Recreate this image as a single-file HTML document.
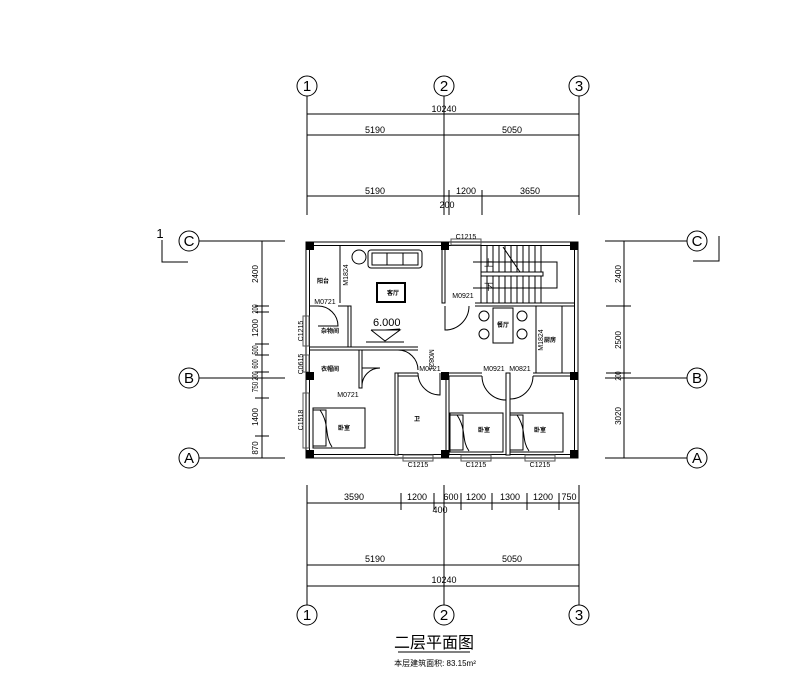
<!DOCTYPE html>
<html><head><meta charset="utf-8"><style>
html,body{margin:0;padding:0;background:#fff;}
svg{display:block;}
text{font-family:"Liberation Sans","Noto Sans CJK SC",sans-serif;fill:#000;}
</style></head><body>
<svg width="794" height="681" viewBox="0 0 794 681" xmlns="http://www.w3.org/2000/svg">
<rect width="794" height="681" fill="#fff"/>
<g stroke="#000" stroke-width="1" fill="none">
<circle cx="307" cy="86" r="10"/><circle cx="444" cy="86" r="10"/><circle cx="579" cy="86" r="10"/>
<line x1="307" y1="96" x2="307" y2="215"/><line x1="444" y1="96" x2="444" y2="215"/><line x1="579" y1="96" x2="579" y2="215"/>
<line x1="449" y1="190" x2="449" y2="215"/><line x1="482" y1="190" x2="482" y2="215"/>
<line x1="307" y1="114" x2="579" y2="114"/><line x1="307" y1="135" x2="579" y2="135"/><line x1="307" y1="196" x2="579" y2="196"/>
<circle cx="307" cy="615" r="10"/><circle cx="444" cy="615" r="10"/><circle cx="579" cy="615" r="10"/>
<line x1="307" y1="485" x2="307" y2="605"/><line x1="444" y1="485" x2="444" y2="605"/><line x1="579" y1="485" x2="579" y2="605"/>
<line x1="307" y1="503" x2="579" y2="503"/><line x1="307" y1="565" x2="579" y2="565"/><line x1="307" y1="586" x2="579" y2="586"/>
<line x1="401" y1="493" x2="401" y2="510"/><line x1="434" y1="493" x2="434" y2="510"/><line x1="461" y1="493" x2="461" y2="510"/>
<line x1="492" y1="493" x2="492" y2="510"/><line x1="527" y1="493" x2="527" y2="510"/><line x1="559" y1="493" x2="559" y2="510"/>
<circle cx="189" cy="241" r="10"/><circle cx="189" cy="378" r="10"/><circle cx="189" cy="458" r="10"/>
<line x1="199" y1="241" x2="285" y2="241"/><line x1="199" y1="378" x2="285" y2="378"/><line x1="199" y1="458" x2="285" y2="458"/>
<line x1="262" y1="241" x2="262" y2="458"/>
<line x1="255" y1="306" x2="269" y2="306"/><line x1="255" y1="312" x2="269" y2="312"/><line x1="255" y1="344" x2="269" y2="344"/>
<line x1="255" y1="355" x2="269" y2="355"/><line x1="255" y1="372" x2="269" y2="372"/><line x1="255" y1="398" x2="269" y2="398"/>
<line x1="255" y1="436" x2="269" y2="436"/>
<polyline points="162,240 162,262 188,262"/>
<circle cx="697" cy="241" r="10"/><circle cx="697" cy="378" r="10"/><circle cx="697" cy="458" r="10"/>
<line x1="605" y1="241" x2="687" y2="241"/><line x1="605" y1="378" x2="687" y2="378"/><line x1="605" y1="458" x2="687" y2="458"/>
<line x1="624" y1="241" x2="624" y2="458"/>
<line x1="606" y1="306" x2="631" y2="306"/><line x1="606" y1="373" x2="631" y2="373"/>
<polyline points="719,236 719,261 693,261"/>
<rect x="306" y="242" width="272" height="216"/>
<rect x="309.5" y="245.5" width="265" height="209"/>
<rect x="442" y="245" width="3" height="58" fill="#fff"/>
<line x1="475" y1="303" x2="575" y2="303"/><line x1="475" y1="306" x2="575" y2="306"/>
<line x1="340" y1="246" x2="340" y2="303"/>
<line x1="309" y1="306" x2="318" y2="306"/><line x1="338" y1="306" x2="351" y2="306"/>
<rect x="348" y="306" width="3" height="41" fill="#fff"/>
<line x1="309" y1="347" x2="418" y2="347"/><line x1="309" y1="350" x2="418" y2="350"/>
<rect x="359" y="350" width="3" height="38" fill="#fff"/>
<line x1="395" y1="373" x2="418" y2="373"/><line x1="398" y1="376" x2="418" y2="376"/>
<rect x="395" y="373" width="3" height="82" fill="#fff"/>
<line x1="482" y1="373" x2="441" y2="373"/><line x1="482" y1="376" x2="448" y2="376"/>
<line x1="533" y1="373" x2="575" y2="373"/><line x1="533" y1="376" x2="570" y2="376"/>
<rect x="506" y="373" width="4" height="82" fill="#fff"/>
<rect x="446" y="376" width="3" height="79" fill="#fff"/>
<line x1="536" y1="306" x2="536" y2="373"/><line x1="562" y1="306" x2="562" y2="373"/>
<path d="M318 306 A20 20 0 0 1 338 326 L318 326"/>
<path d="M362 386 A18 18 0 0 1 380 368 L362 368" />
<path d="M398 350 A20 20 0 0 1 418 370"/>
<path d="M418 373 A22 22 0 0 0 440 395 L440 373"/>
<path d="M445 306 L445 330 A24 24 0 0 0 469 306"/>
<path d="M482 376 A24 24 0 0 0 506 400 L506 376"/>
<path d="M533 376 A23 23 0 0 1 510 399 L510 376"/>
<g stroke="#555"><rect x="303" y="316" width="6" height="30"/><rect x="303" y="355" width="6" height="17"/><rect x="303" y="393" width="6" height="55"/>
<rect x="451" y="239" width="30" height="6"/><rect x="403" y="455" width="30" height="6"/><rect x="461" y="455" width="30" height="6"/><rect x="525" y="455" width="30" height="6"/></g>
<path d="M481 245 V303 M487 245 V303 M493 245 V303 M499 245 V303 M505 245 V303 M511 245 V303 M517 245 V303 M523 245 V303 M529 245 V303 M535 245 V303 M541 245 V303"/>
<rect x="481" y="272" width="62" height="4" fill="#fff"/>
<polyline points="473,262 557,262 557,288 473,288"/>
<line x1="503" y1="247" x2="520" y2="272"/>
<circle cx="359" cy="257" r="7"/>
<rect x="368" y="250" width="54" height="18" rx="3"/><rect x="372" y="253" width="46" height="12"/>
<line x1="387" y1="253" x2="387" y2="265"/><line x1="403" y1="253" x2="403" y2="265"/>
<rect x="377" y="283" width="28" height="19" stroke-width="2"/>
<rect x="493" y="308" width="20" height="35"/>
<circle cx="484" cy="316" r="5"/><circle cx="484" cy="334" r="5"/><circle cx="522" cy="316" r="5"/><circle cx="522" cy="334" r="5"/>
<rect x="313" y="408" width="52" height="40"/><rect x="313" y="410" width="13" height="36"/><path d="M320 410 C330 425 324 435 332 447"/>
<rect x="450" y="413" width="53" height="39"/><rect x="450" y="415" width="13" height="35"/><path d="M457 415 C467 430 461 440 469 451"/>
<rect x="510" y="413" width="53" height="39"/><rect x="510" y="415" width="13" height="35"/><path d="M517 415 C527 430 521 440 529 451"/>
<polyline points="371,330 400,330 385,341 371,330"/><line x1="366" y1="342" x2="404" y2="342"/><line x1="385" y1="330" x2="400" y2="329"/>
<line x1="398" y1="652" x2="470" y2="652"/>
</g>
<g fill="#000">
<rect x="306" y="242" width="8" height="8"/><rect x="441" y="242" width="8" height="8"/><rect x="570" y="242" width="8" height="8"/>
<rect x="306" y="372" width="8" height="8"/><rect x="441" y="372" width="8" height="8"/><rect x="570" y="372" width="8" height="8"/>
<rect x="306" y="450" width="8" height="8"/><rect x="441" y="450" width="8" height="8"/><rect x="570" y="450" width="8" height="8"/>
</g>
<g font-size="15" text-anchor="middle">
<text x="307" y="91">1</text><text x="444" y="91">2</text><text x="579" y="91">3</text>
<text x="307" y="620">1</text><text x="444" y="620">2</text><text x="579" y="620">3</text>
<text x="189" y="246" font-family="Liberation Serif">C</text><text x="189" y="383" font-family="Liberation Serif">B</text><text x="189" y="463" font-family="Liberation Serif">A</text>
<text x="697" y="246" font-family="Liberation Serif">C</text><text x="697" y="383" font-family="Liberation Serif">B</text><text x="697" y="463" font-family="Liberation Serif">A</text>
<text x="160" y="238" font-family="Liberation Serif" font-size="13">1</text>
</g>
<g font-size="9" text-anchor="middle">
<text x="444" y="112">10240</text><text x="375" y="133">5190</text><text x="512" y="133">5050</text>
<text x="375" y="194">5190</text><text x="466" y="194">1200</text><text x="530" y="194">3650</text><text x="447" y="208">200</text>
<text x="354" y="500">3590</text><text x="417" y="500">1200</text><text x="451" y="500">600</text><text x="476" y="500">1200</text>
<text x="510" y="500">1300</text><text x="543" y="500">1200</text><text x="569" y="500">750</text><text x="440" y="513">400</text>
<text x="375" y="562">5190</text><text x="512" y="562">5050</text><text x="444" y="583">10240</text>
</g>
<g font-size="8" text-anchor="middle">
<text transform="translate(258,274) rotate(-90)">2400</text><text transform="translate(258,309) rotate(-90) scale(0.7,1)">200</text>
<text transform="translate(258,328) rotate(-90)">1200</text><text transform="translate(258,350) rotate(-90) scale(0.7,1)">500</text>
<text transform="translate(258,364) rotate(-90) scale(0.7,1)">600</text><text transform="translate(258,376) rotate(-90) scale(0.7,1)">200</text>
<text transform="translate(258,387) rotate(-90) scale(0.8,1)">750</text><text transform="translate(258,417) rotate(-90)">1400</text>
<text transform="translate(258,448) rotate(-90)">870</text>
<text transform="translate(621,274) rotate(-90)">2400</text><text transform="translate(621,340) rotate(-90)">2500</text>
<text transform="translate(621,376) rotate(-90) scale(0.7,1)">200</text><text transform="translate(621,416) rotate(-90)">3020</text>
</g>
<g font-size="7" text-anchor="middle">
<text x="466" y="239">C1215</text><text x="418" y="467">C1215</text><text x="476" y="467">C1215</text><text x="540" y="467">C1215</text>
<text transform="translate(303,331) rotate(-90)">C1215</text><text transform="translate(303,364) rotate(-90)">C0615</text><text transform="translate(303,420) rotate(-90)">C1518</text>
<text transform="translate(348,275) rotate(-90)">M1824</text><text transform="translate(543,340) rotate(-90)">M1824</text>
<text x="325" y="304">M0721</text><text x="348" y="397">M0721</text><text x="430" y="371">M0721</text>
<text transform="translate(429,360) rotate(90)">M0821</text>
<text x="463" y="298">M0921</text><text x="494" y="371">M0921</text><text x="520" y="371">M0821</text>
</g>
<g font-size="6" font-weight="bold" text-anchor="middle">
<text x="323" y="283">阳台</text><text x="330" y="333">杂物间</text><text x="330" y="371">衣帽间</text>
<text x="393" y="295">客厅</text><text x="503" y="327">餐厅</text><text x="550" y="342">厨房</text>
<text x="344" y="430">卧室</text><text x="417" y="421">卫</text><text x="484" y="432">卧室</text><text x="540" y="432">卧室</text>
</g>
<text x="484" y="266" font-size="9">上</text><text x="484" y="290" font-size="9">下</text>
<text x="373" y="326" font-size="11">6.000</text>
<text x="434" y="648" font-size="16" text-anchor="middle">二层平面图</text>
<text x="435" y="666" font-size="8" text-anchor="middle">本层建筑面积: 83.15m²</text>
</svg>
</body></html>
